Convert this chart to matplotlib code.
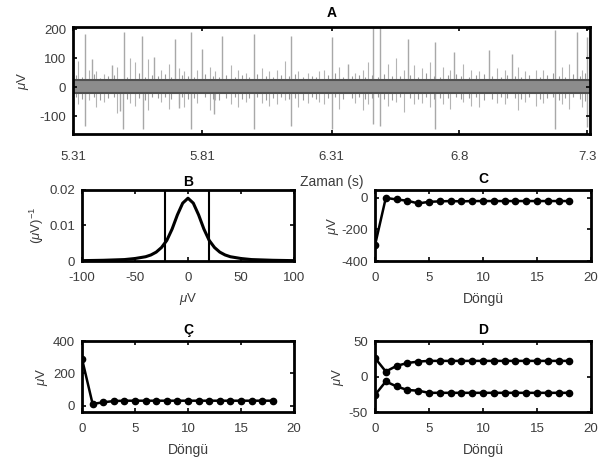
import matplotlib
matplotlib.use("Agg")
import matplotlib.pyplot as plt

plt.rcParams["font.family"] = ["Liberation Sans", "DejaVu Sans"]
plt.rcParams["mathtext.fontset"] = "custom"
plt.rcParams["mathtext.it"] = "Liberation Sans:italic"
plt.rcParams["mathtext.rm"] = "Liberation Sans"
plt.rcParams["axes.unicode_minus"] = False

# ---- panel A: spikes (time s, amplitude uV) ----
big_up_t = [5.358, 5.384, 5.459, 5.508, 5.578, 5.623, 5.705, 5.767, 5.809, 5.888,
            6.010, 6.154, 6.312, 6.375, 6.472, 6.498, 6.606, 6.710, 6.784, 6.918,
            7.008, 7.176, 7.261, 7.298]
big_up_v = [183, 98, 75, 190, 175, 104, 166, 190, 132, 177,
            183, 175, 172, 81, 202, 202, 166, 155, 120, 127,
            115, 198, 189, 172]
big_dn_t = [5.358, 5.490, 5.505, 5.580, 5.720, 5.767, 5.855, 6.010, 6.154, 6.312,
            6.472, 6.498, 6.710, 7.176, 7.298]
big_dn_v = [-133, -82, -145, -145, -71, -145, -94, -145, -133, -145,
            -128, -133, -145, -145, -139]
small_t = [5.33, 5.37, 5.40, 5.43, 5.48, 5.53, 5.55, 5.60, 5.65, 5.68,
           5.72, 5.74, 5.79, 5.84, 5.86, 5.92, 5.95, 5.98, 6.04, 6.07,
           6.10, 6.13, 6.18, 6.22, 6.26, 6.28, 6.34, 6.40, 6.43, 6.45,
           6.53, 6.56, 6.59, 6.63, 6.66, 6.69, 6.74, 6.77, 6.82, 6.85,
           6.88, 6.95, 6.98, 7.03, 7.06, 7.10, 7.13, 7.20, 7.23, 7.28]
small_up_v = [90, 60, 55, 45, 70, 100, 85, 95, 60, 80,
              65, 55, 60, 70, 55, 75, 60, 50, 65, 55,
              60, 90, 55, 50, 55, 60, 70, 50, 60, 85,
              80, 100, 60, 75, 65, 85, 70, 60, 80, 60,
              55, 65, 60, 70, 55, 60, 60, 70, 80, 60]
small_dn_v = [-60, -45, -70, -50, -90, -55, -65, -80, -50, -75,
              -60, -70, -55, -80, -45, -60, -70, -50, -55, -65,
              -60, -45, -70, -55, -50, -60, -75, -55, -80, -60,
              -65, -50, -85, -60, -55, -70, -60, -75, -50, -65,
              -70, -55, -60, -80, -50, -65, -55, -60, -75, -70]
# low-level noise just outside the dense band
fuzz_t = [5.32, 5.345, 5.39, 5.415, 5.445, 5.47, 5.52, 5.565, 5.59, 5.615,
          5.64, 5.665, 5.69, 5.73, 5.755, 5.78, 5.82, 5.85, 5.875, 5.90,
          5.935, 5.965, 5.99, 6.02, 6.055, 6.085, 6.115, 6.145, 6.17, 6.20,
          6.235, 6.25, 6.295, 6.325, 6.355, 6.39, 6.415, 6.44, 6.465, 6.49,
          6.515, 6.545, 6.575, 6.615, 6.645, 6.675, 6.705, 6.73, 6.76, 6.79,
          6.81, 6.84, 6.87, 6.90, 6.93, 6.965, 6.99, 7.02, 7.045, 7.075,
          7.115, 7.145, 7.165, 7.19, 7.215, 7.245, 7.27, 7.29]
fuzz_up_v = [40, 35, 45, 32, 38, 42, 36, 48, 34, 40,
             37, 44, 33, 41, 39, 35, 46, 38, 34, 43,
             36, 40, 33, 45, 38, 35, 42, 37, 44, 34,
             39, 36, 41, 47, 35, 38, 43, 36, 40, 34,
             45, 39, 37, 42, 35, 48, 38, 36, 41, 44,
             37, 35, 40, 46, 38, 34, 42, 39, 36, 43,
             35, 40, 47, 38, 36, 44, 39, 50]
fuzz_dn_v = [-36, -40, -33, -44, -38, -35, -42, -37, -45, -34,
             -39, -36, -41, -35, -43, -38, -34, -40, -46, -37,
             -35, -42, -38, -36, -44, -39, -34, -41, -37, -45,
             -35, -40, -38, -36, -43, -39, -35, -42, -37, -34,
             -40, -44, -36, -38, -41, -35, -43, -39, -37, -34,
             -42, -38, -36, -45, -40, -35, -39, -37, -43, -36,
             -41, -38, -34, -44, -39, -36, -42, -48]
band_lo, band_hi = -21, 24
a_ticks = [5.31, 5.81, 6.31, 6.805, 7.30]
a_ticklabels = ["5.31", "5.81", "6.31", "6.8", "7.3"]

# ---- panel B: density of amplitudes ----
b_x = [-100, -80, -60, -50, -40, -35, -30, -25, -20, -15, -10, -5, 0,
       5, 10, 15, 20, 25, 30, 35, 40, 50, 60, 80, 100]
b_y = [0.0001, 0.0002, 0.0004, 0.0007, 0.0012, 0.0017, 0.0025, 0.0038, 0.0058,
       0.0090, 0.0130, 0.0163, 0.0177, 0.0163, 0.0130, 0.0090, 0.0058, 0.0038,
       0.0025, 0.0017, 0.0012, 0.0007, 0.0004, 0.0002, 0.0001]
b_thresholds = [-22, 20]

# ---- panels C, Ç, D: iterations ----
cycles = list(range(19))
c_vals = [-300, 0, -10, -18, -35, -25, -22, -20, -22, -20, -20, -20, -20, -20,
          -20, -20, -20, -20, -20]
cc_vals = [290, 10, 20, 28, 30, 30, 30, 30, 30, 30, 30, 30, 30, 30, 30, 30, 30, 30, 30]
d_upper = [26, 7, 15, 19, 21, 22, 22, 22, 22, 22, 22, 22, 22, 22, 22, 22, 22, 22, 22]
d_lower = [-26, -7, -14, -19, -20, -23, -23, -23, -23, -23, -23, -23, -23, -23,
           -23, -23, -23, -23, -23]

TICK_COLOR = "#3c3c3c"
MU = r"$\mathit{\mu}$V"


def style(ax, xpad=8):
    for s in ax.spines.values():
        s.set_linewidth(2.0)
        s.set_color("black")
    ax.tick_params(direction="in", length=3, width=1.2, top=True, right=True,
                   labelsize=9.5, labelcolor=TICK_COLOR, color="black")
    ax.tick_params(axis="x", pad=xpad)
    ax.tick_params(axis="y", pad=5)


fig = plt.figure(figsize=(6.04, 4.69), dpi=100)

# A
axA = fig.add_axes([73 / 604, 1 - 134 / 469, 517 / 604, 107 / 469])
axA.fill_between([5.31, 7.31], band_lo, band_hi, color="#8c8c8c", lw=0, zorder=1)
axA.vlines(fuzz_t, 0, fuzz_up_v, color="#9a9a9a", lw=0.8, zorder=0)
axA.vlines(fuzz_t, 0, fuzz_dn_v, color="#9a9a9a", lw=0.8, zorder=0)
axA.vlines(small_t, 0, small_up_v, color="#b4b4b4", lw=0.8, zorder=0)
axA.vlines(small_t, 0, small_dn_v, color="#b4b4b4", lw=0.8, zorder=0)
axA.vlines(big_up_t, 0, big_up_v, color="#a8a8a8", lw=1.0, zorder=0)
axA.vlines(big_dn_t, 0, big_dn_v, color="#a8a8a8", lw=1.0, zorder=0)
axA.plot([5.31, 7.31], [band_hi, band_hi], color="#505050", lw=1.5, zorder=2)
axA.plot([5.31, 7.31], [band_lo, band_lo], color="#505050", lw=1.5, zorder=2)
axA.set_xlim(5.31, 7.31)
axA.set_ylim(-162, 207)
axA.set_xticks(a_ticks)
axA.set_xticklabels(a_ticklabels)
axA.set_yticks([-100, 0, 100, 200])
axA.set_title("A", fontsize=10, fontweight="bold", pad=7)
axA.set_xlabel("Zaman (s)", fontsize=10, color=TICK_COLOR, labelpad=9)
axA.set_ylabel(MU, fontsize=9.5, color=TICK_COLOR, labelpad=6)
style(axA, xpad=12)

# B
axB = fig.add_axes([82 / 604, 1 - 261 / 469, 212 / 604, 71 / 469])
axB.plot(b_x, b_y, color="black", lw=2.2)
for xv in b_thresholds:
    axB.axvline(xv, color="black", lw=1.5)
axB.set_xlim(-100, 100)
axB.set_ylim(0, 0.02)
axB.set_xticks([-100, -50, 0, 50, 100])
axB.set_yticks([0, 0.01, 0.02])
axB.set_yticklabels(["0", "0.01", "0.02"])
axB.set_title("B", fontsize=10, fontweight="bold", pad=3)
axB.set_xlabel(MU, fontsize=9.5, color=TICK_COLOR, labelpad=5)
axB.set_ylabel(r"($\mathit{\mu}$V)$^{\mathrm{-1}}$", fontsize=9.5, color=TICK_COLOR, labelpad=2)
style(axB)

# C
axC = fig.add_axes([375 / 604, 1 - 261 / 469, 216 / 604, 71 / 469])
axC.plot(cycles, c_vals, color="black", lw=1.8, marker="o", ms=4.5)
axC.set_xlim(0, 20)
axC.set_ylim(-400, 50)
axC.set_xticks([0, 5, 10, 15, 20])
axC.set_yticks([-400, -200, 0])
axC.set_title("C", fontsize=10, fontweight="bold", pad=5)
axC.set_xlabel("Döngü", fontsize=10, color=TICK_COLOR, labelpad=6)
axC.set_ylabel(MU, fontsize=9.5, color=TICK_COLOR, labelpad=0)
style(axC)

# Ç
axCC = fig.add_axes([82 / 604, 1 - 412 / 469, 212 / 604, 71 / 469])
axCC.plot(cycles, cc_vals, color="black", lw=1.8, marker="o", ms=4.5)
axCC.set_xlim(0, 20)
axCC.set_ylim(-40, 400)
axCC.set_xticks([0, 5, 10, 15, 20])
axCC.set_yticks([0, 200, 400])
axCC.set_title("Ç", fontsize=10, fontweight="bold", pad=5)
axCC.set_xlabel("Döngü", fontsize=10, color=TICK_COLOR, labelpad=6)
axCC.set_ylabel(MU, fontsize=9.5, color=TICK_COLOR, labelpad=2)
style(axCC)

# D
axD = fig.add_axes([375 / 604, 1 - 412 / 469, 216 / 604, 71 / 469])
axD.plot(cycles, d_upper, color="black", lw=1.8, marker="o", ms=4.5)
axD.plot(cycles, d_lower, color="black", lw=1.8, marker="o", ms=4.5)
axD.set_xlim(0, 20)
axD.set_ylim(-50, 50)
axD.set_xticks([0, 5, 10, 15, 20])
axD.set_yticks([-50, 0, 50])
axD.set_title("D", fontsize=10, fontweight="bold", pad=5)
axD.set_xlabel("Döngü", fontsize=10, color=TICK_COLOR, labelpad=6)
axD.set_ylabel(MU, fontsize=9.5, color=TICK_COLOR, labelpad=2)
style(axD)

fig.savefig("out.png", dpi=100)
